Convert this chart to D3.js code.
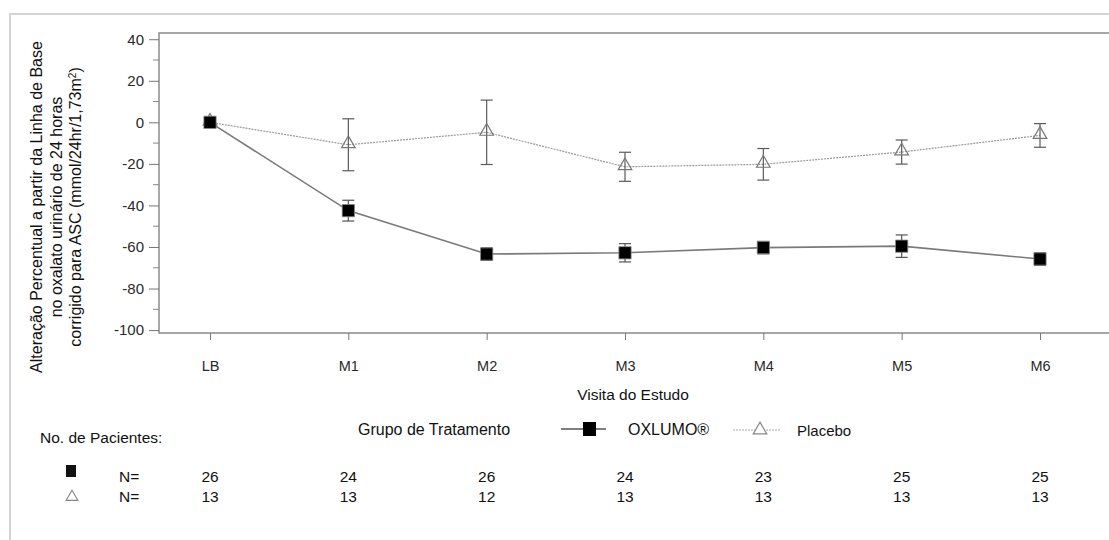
<!DOCTYPE html>
<html>
<head>
<meta charset="utf-8">
<script src="https://cdn.jsdelivr.net/npm/d3@7"></script>
<style>
  html, body { margin: 0; padding: 0; background: #fff; }
  svg { display: block; font-family: Arial, "Liberation Sans", sans-serif; }
</style>
</head>
<body>
<svg id="chart" width="1109" height="540"></svg>
<script>
// Visits along the x axis
const visits = ["LB", "M1", "M2", "M3", "M4", "M5", "M6"];

// Mean percent change from baseline and its error (± half-width)
const oxlumoMean = [0, -42.5, -63.4, -62.8, -60.3, -59.6, -65.8];
const oxlumoErr  = [0, 5.0, 3.0, 4.4, 3.0, 5.4, 3.0];
const placeboMean = [0, -10.8, -4.8, -21.4, -20.2, -14.3, -6.3];
const placeboErr  = [0, 12.5, 15.5, 7.0, 7.6, 5.8, 5.7];

// Patients per visit
const oxlumoN  = [26, 24, 26, 24, 23, 25, 25];
const placeboN = [13, 13, 12, 13, 13, 13, 13];

// Y axis ticks
const yTicks = [40, 20, 0, -20, -40, -60, -80, -100];
const yMinorTicks = [30, 10, -10, -30, -50, -70, -90];

const FONT = "Arial, 'Liberation Sans', sans-serif";
const svg = d3.select("#chart");

const plot = { left: 159, top: 33, right: 1112, bottom: 333 };

const x = d3.scalePoint()
  .domain(visits)
  .range([210, 1040]);

const y = d3.scaleLinear()
  .domain([-101.4, 43])
  .range([plot.bottom, plot.top]);

// Outer panel border (top and left edges)
svg.append("path")
  .attr("d", `M10,540 L10,14 L1109,14`)
  .attr("fill", "none")
  .attr("stroke", "#d4d4d4")
  .attr("stroke-width", 2);

// Plot frame
svg.append("rect")
  .attr("x", plot.left).attr("y", plot.top)
  .attr("width", plot.right - plot.left)
  .attr("height", plot.bottom - plot.top)
  .attr("fill", "none")
  .attr("stroke", "#8a8a8a")
  .attr("stroke-width", 1.5);

// Y axis: major ticks with labels
const yAxis = d3.axisLeft(y)
  .tickValues(yTicks)
  .tickSize(10)
  .tickPadding(5)
  .tickFormat(d => String(d));
const gy = svg.append("g")
  .attr("transform", `translate(${plot.left},0)`)
  .call(yAxis);
gy.select(".domain").remove();
gy.selectAll(".tick line").attr("stroke", "#777");
gy.selectAll(".tick text")
  .attr("fill", "#2a2a2a")
  .style("font-size", "15px")
  .style("font-family", FONT);

// Y axis: minor ticks
svg.append("g")
  .selectAll("line")
  .data(yMinorTicks)
  .join("line")
  .attr("x1", plot.left - 6).attr("x2", plot.left)
  .attr("y1", d => y(d)).attr("y2", d => y(d))
  .attr("stroke", "#888");

// X axis
const xAxis = d3.axisBottom(x)
  .tickSize(7)
  .tickPadding(21);
const gx = svg.append("g")
  .attr("transform", `translate(0,${plot.bottom})`)
  .call(xAxis);
gx.select(".domain").remove();
gx.selectAll(".tick line").attr("stroke", "#777");
gx.selectAll(".tick text")
  .attr("fill", "#2a2a2a")
  .style("font-size", "14.5px")
  .style("font-family", FONT);

// Axis titles
svg.append("text")
  .attr("x", 633).attr("y", 400)
  .attr("text-anchor", "middle")
  .attr("fill", "#111")
  .style("font-size", "15.5px")
  .text("Visita do Estudo");

const yTitle = svg.append("text")
  .attr("transform", "translate(42,207) rotate(-90)")
  .attr("text-anchor", "middle")
  .attr("fill", "#111")
  .style("font-size", "16px");
yTitle.append("tspan").attr("x", 0).attr("dy", 0)
  .text("Alteração Percentual a partir da Linha de Base");
yTitle.append("tspan").attr("x", 0).attr("dy", 19.5)
  .text("no oxalato urinário de 24 horas");
const l3 = yTitle.append("tspan").attr("x", 0).attr("dy", 19.5);
l3.append("tspan").text("corrigido para ASC (mmol/24hr/1,73m");
l3.append("tspan").attr("baseline-shift", "super").style("font-size", "10px").text("2");
l3.append("tspan").text(")");

// Series data
const oxlumo = visits.map((v, i) => ({ v, m: oxlumoMean[i], e: oxlumoErr[i] }));
const placebo = visits.map((v, i) => ({ v, m: placeboMean[i], e: placeboErr[i] }));

const line = d3.line().x(d => x(d.v)).y(d => y(d.m));

// Placebo: dotted light line
svg.append("path")
  .datum(placebo)
  .attr("d", line)
  .attr("fill", "none")
  .attr("stroke", "#9a9a9a")
  .attr("stroke-width", 1.2)
  .attr("stroke-dasharray", "2,1");

// OXLUMO: solid line
svg.append("path")
  .datum(oxlumo)
  .attr("d", line)
  .attr("fill", "none")
  .attr("stroke", "#7a7a7a")
  .attr("stroke-width", 1.6);

// Error bars
function errorBars(data, color) {
  const g = svg.append("g").attr("stroke", color).attr("stroke-width", 1.2).attr("fill", "none");
  data.filter(d => d.e > 0).forEach(d => {
    const cx = x(d.v), y1 = y(d.m + d.e), y2 = y(d.m - d.e);
    g.append("line").attr("x1", cx).attr("x2", cx).attr("y1", y1).attr("y2", y2);
    g.append("line").attr("x1", cx - 6).attr("x2", cx + 6).attr("y1", y1).attr("y2", y1);
    g.append("line").attr("x1", cx - 6).attr("x2", cx + 6).attr("y1", y2).attr("y2", y2);
  });
}
errorBars(placebo, "#5a5a5a");
errorBars(oxlumo, "#555");

// Markers
const triangle = d3.symbol().type(d3.symbolTriangle).size(80);
const square = d3.symbol().type(d3.symbolSquare).size(150);

svg.append("g")
  .selectAll("path")
  .data(placebo)
  .join("path")
  .attr("d", triangle)
  .attr("transform", d => `translate(${x(d.v)},${y(d.m) - 1})`)
  .attr("fill", "none")
  .attr("stroke", "#777")
  .attr("stroke-width", 1.2);

svg.append("g")
  .selectAll("path")
  .data(oxlumo)
  .join("path")
  .attr("d", square)
  .attr("transform", d => `translate(${x(d.v)},${y(d.m)})`)
  .attr("fill", "#000")
  .attr("stroke", "#888")
  .attr("stroke-width", 0.8);

// Legend
const legend = svg.append("g").style("font-size", "16px").attr("fill", "#111");
legend.append("text").attr("x", 358).attr("y", 435).text("Grupo de Tratamento");
legend.append("line").attr("x1", 561).attr("x2", 606).attr("y1", 429).attr("y2", 429)
  .attr("stroke", "#555").attr("stroke-width", 1.4);
legend.append("rect").attr("x", 583).attr("y", 422).attr("width", 13).attr("height", 14).attr("fill", "#000");
legend.append("text").attr("x", 628).attr("y", 435).text("OXLUMO®");
legend.append("line").attr("x1", 733).attr("x2", 780).attr("y1", 430).attr("y2", 430)
  .attr("stroke", "#aaa").attr("stroke-width", 1.2).attr("stroke-dasharray", "2,1");
legend.append("path").attr("d", triangle)
  .attr("transform", "translate(760,430)")
  .attr("fill", "#fff").attr("stroke", "#888").attr("stroke-width", 1.2);
legend.append("text").attr("x", 797).attr("y", 436).style("font-size", "15px").text("Placebo");

// Patient counts table
const table = svg.append("g").style("font-size", "15.5px").attr("fill", "#111");
table.append("text").attr("x", 40).attr("y", 443).text("No. de Pacientes:");
table.append("rect").attr("x", 66).attr("y", 465).attr("width", 10).attr("height", 12).attr("fill", "#111");
table.append("path").attr("d", d3.symbol().type(d3.symbolTriangle).size(60))
  .attr("transform", "translate(72,497)")
  .attr("fill", "none").attr("stroke", "#888").attr("stroke-width", 1.1);
table.append("text").attr("x", 119).attr("y", 482).text("N=");
table.append("text").attr("x", 119).attr("y", 502).text("N=");
table.append("g").selectAll("text").data(oxlumoN).join("text")
  .attr("x", (d, i) => x(visits[i])).attr("y", 482)
  .attr("text-anchor", "middle").text(d => d);
table.append("g").selectAll("text").data(placeboN).join("text")
  .attr("x", (d, i) => x(visits[i])).attr("y", 502)
  .attr("text-anchor", "middle").text(d => d);
</script>
</body>
</html>
